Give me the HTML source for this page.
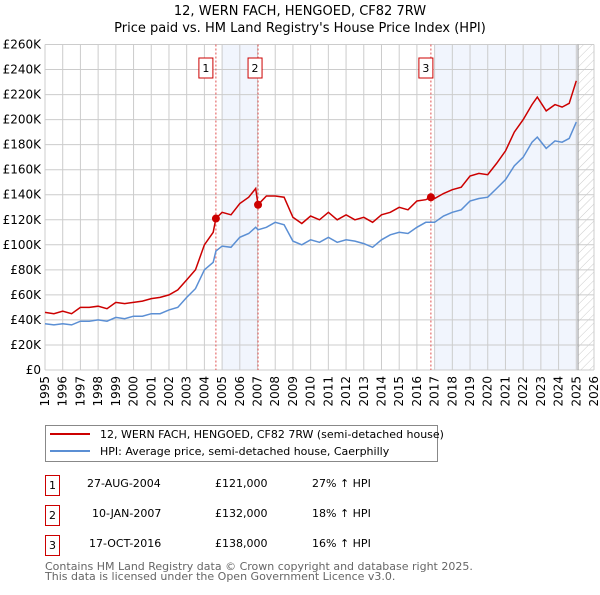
<!DOCTYPE html>
<html><head><meta charset="utf-8"><style>
body{margin:0;background:#fff;font-family:"Liberation Sans","DejaVu Sans",sans-serif;}
svg text{font-family:"DejaVu Sans","Liberation Sans",sans-serif;}
</style></head><body>
<svg id="chart" width="600" height="590" xmlns="http://www.w3.org/2000/svg">
<defs><pattern id="hatch" width="6" height="6" patternUnits="userSpaceOnUse" patternTransform="rotate(45)"><line x1="0" y1="0" x2="0" y2="6" stroke="#ccc" stroke-width="1"/></pattern></defs>
<text x="300" y="15" text-anchor="middle" font-size="13">12, WERN FACH, HENGOED, CF82 7RW</text>
<text x="300" y="32" text-anchor="middle" font-size="13">Price paid vs. HM Land Registry's House Price Index (HPI)</text>
<g id="plot"></g>
<g>
<rect x="45.5" y="425.5" width="392" height="36" fill="#fff" stroke="#888"/>
<line x1="50" y1="434" x2="90" y2="434" stroke="#cc0000" stroke-width="2"/>
<text x="100" y="438" font-size="11">12, WERN FACH, HENGOED, CF82 7RW (semi-detached house)</text>
<line x1="50" y1="451" x2="90" y2="451" stroke="#5b8fd4" stroke-width="2"/>
<text x="100" y="455" font-size="11">HPI: Average price, semi-detached house, Caerphilly</text>
</g>
<g font-size="11">
<rect x="45.5" y="475.5" width="14" height="20" fill="#fff" stroke="#cc0000"/><text x="52.5" y="489" text-anchor="middle">1</text>
<text x="87" y="487">27-AUG-2004</text><text x="215" y="487">£121,000</text><text x="312" y="487">27% ↑ HPI</text>
<rect x="45.5" y="505.5" width="14" height="20" fill="#fff" stroke="#cc0000"/><text x="52.5" y="519" text-anchor="middle">2</text>
<text x="92" y="517">10-JAN-2007</text><text x="215" y="517">£132,000</text><text x="312" y="517">18% ↑ HPI</text>
<rect x="45.5" y="535.5" width="14" height="20" fill="#fff" stroke="#cc0000"/><text x="52.5" y="549" text-anchor="middle">3</text>
<text x="89" y="547">17-OCT-2016</text><text x="215" y="547">£138,000</text><text x="312" y="547">16% ↑ HPI</text>
</g>
<text x="45" y="570" font-size="11" fill="#666">Contains HM Land Registry data © Crown copyright and database right 2025.</text>
<text x="45" y="580" font-size="11" fill="#666">This data is licensed under the Open Government Licence v3.0.</text>
</svg>
<script>
const years=[1995,1995.5,1996,1996.5,1997,1997.5,1998,1998.5,1999,1999.5,2000,2000.5,2001,2001.5,2002,2002.5,2003,2003.5,2004,2004.5,2004.65,2005,2005.5,2006,2006.5,2006.9,2007.03,2007.5,2008,2008.5,2009,2009.5,2010,2010.5,2011,2011.5,2012,2012.5,2013,2013.5,2014,2014.5,2015,2015.5,2016,2016.5,2016.8,2017,2017.5,2018,2018.5,2019,2019.5,2020,2020.5,2021,2021.5,2022,2022.5,2022.8,2023.3,2023.8,2024.2,2024.6,2025];
const priceK=[46,45,47,45,50,50,51,49,54,53,54,55,57,58,60,64,72,80,100,110,121,126,124,133,138,145,132,139,139,138,122,117,123,120,126,120,124,120,122,118,124,126,130,128,135,136,138,137,141,144,146,155,157,156,165,175,190,200,212,218,207,212,210,213,231];
const hpiK=[37,36,37,36,39,39,40,39,42,41,43,43,45,45,48,50,58,65,80,86,95,99,98,106,109,114,112,114,118,116,103,100,104,102,106,102,104,103,101,98,104,108,110,109,114,118,118,118,123,126,128,135,137,138,145,152,163,170,182,186,177,183,182,185,198];
const yTicks=[0,20,40,60,80,100,120,140,160,180,200,220,240,260];
const xTicks=[1995,1996,1997,1998,1999,2000,2001,2002,2003,2004,2005,2006,2007,2008,2009,2010,2011,2012,2013,2014,2015,2016,2017,2018,2019,2020,2021,2022,2023,2024,2025,2026];
const saleYears=[2004.65,2007.03,2016.79];
const saleValues=[121,132,138];
const saleLabels=["1","2","3"];
const shadeStarts=[2005,2017];
const shadeEnds=[2007.03,2025.1];
const X0=45,X1=594,Y0=370,Y1=44.5;
const sx=y=>X0+(y-1995)/(2026-1995)*(X1-X0);
const sy=v=>Y0-(v/260)*(Y0-Y1);
const NS="http://www.w3.org/2000/svg";
const g=document.getElementById('plot');
function mk(t,a){const e=document.createElementNS(NS,t);for(const k in a)e.setAttribute(k,a[k]);g.appendChild(e);return e;}
for(let i=0;i<shadeStarts.length;i++){
 const r=mk('rect',{x:sx(shadeStarts[i]),y:Y1,width:sx(shadeEnds[i])-sx(shadeStarts[i]),height:Y0-Y1,fill:'#eef3fc',opacity:0.8});
 
 
}
const hr=mk('rect',{x:sx(2025.1),y:Y1,width:X1-sx(2025.1),height:Y0-Y1,fill:'url(#hatch)'});


yTicks.forEach(v=>{
 mk('line',{x1:X0,x2:X1,y1:sy(v),y2:sy(v),stroke:'#ccc','stroke-width':1});
 const t=mk('text',{x:X0-4,y:sy(v)+4,'text-anchor':'end','font-size':12});
 t.textContent=v===0?'£0':'£'+v+'K';
 
 
});
xTicks.forEach(y=>{
 mk('line',{x1:sx(y),x2:sx(y),y1:Y1,y2:Y0,stroke:'#ccc','stroke-width':1});
 const t=mk('text',{x:0,y:0,'text-anchor':'end','font-size':12,transform:`translate(${sx(y)+4},${Y0+6}) rotate(-90)`});
 t.textContent=y;
 
 
});
mk('line',{x1:sx(2025.1),x2:sx(2025.1),y1:Y1,y2:Y0,stroke:'#999','stroke-width':1});
saleYears.forEach((y,i)=>{
 const l=mk('line',{x1:sx(y),x2:sx(y),y1:Y1,y2:Y0,stroke:'#e05050','stroke-width':1,'stroke-dasharray':'2,2'});
 
 
 const bx=sx(y)-(i<2?sx(y)-sx(y)+14:14)+ (i===0?-7:i===1?-7:-7)+7;
 const r=mk('rect',{x:sx(y)-21+7,y:58,width:14,height:20,fill:'#fff',stroke:'#cc0000'});
 r.setAttribute('x',sx(y)-(i===0?10:i===1?3:5)-7);
 
 
 const t=mk('text',{x:+r.getAttribute('x')+7,y:72,'text-anchor':'middle','font-size':11});
 t.textContent=saleLabels[i];
 
 
});
const path=(arr,c,n)=>{const p=mk('path',{d:arr.map((v,i)=>(i?'L':'M')+sx(years[i]).toFixed(1)+','+sy(v).toFixed(1)).join(''),fill:'none',stroke:c,'stroke-width':1.5});
 
 };
path(hpiK,'#5b8fd4','hpi-line');
path(priceK,'#cc0000','price-line');
saleYears.forEach((y,i)=>{
 const c=mk('circle',{cx:sx(y),cy:sy(saleValues[i]),r:4,fill:'#cc0000'});
 
 
});
</script>
</body></html>
